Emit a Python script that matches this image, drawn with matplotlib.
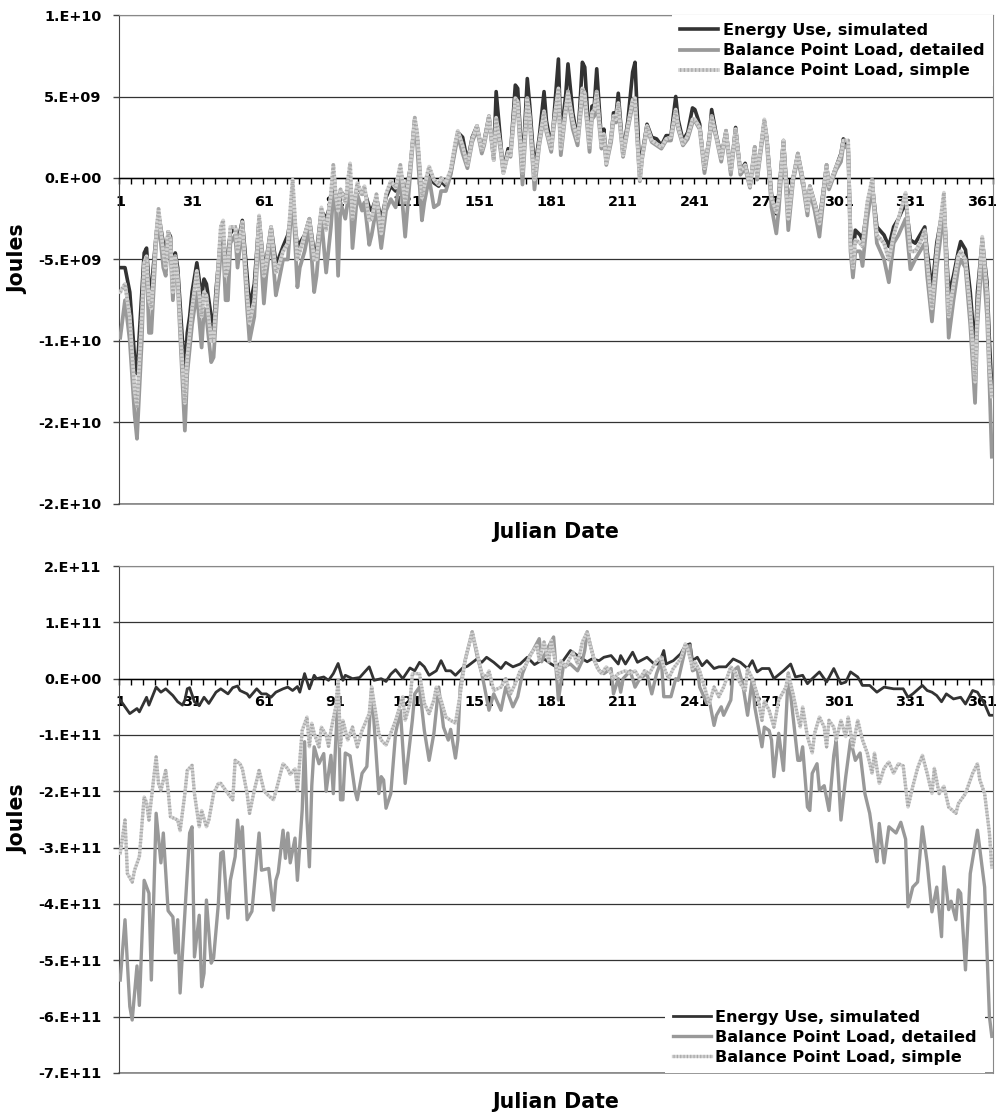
import numpy as np
import matplotlib.pyplot as plt
from matplotlib.ticker import FixedLocator, FuncFormatter, NullFormatter
from matplotlib.legend_handler import HandlerTuple

plt.rcParams['font.family'] = ['DejaVu Sans']
plt.rcParams['font.weight'] = 'bold'

# TOP CHART DATA (Joules, x 1e9)
top_days = [1, 3, 5, 7, 8, 10, 11, 12, 13, 14, 16, 17, 19, 20, 21, 22, 23, 24, 25, 27,
            28, 29, 30, 31, 33, 35, 36, 37, 39, 40, 41, 43, 44, 45, 46, 47, 49, 50, 52, 54,
            55, 57, 59, 61, 62, 64, 66, 67, 69, 71, 73, 75, 76, 78, 80, 82, 83, 85, 87, 89,
            90, 91, 92, 93, 95, 97, 98, 100, 102, 103, 105, 106, 108, 110, 112, 114, 116, 118, 120, 122,
            124, 125, 127, 128, 130, 132, 134, 135, 137, 139, 141, 142, 144, 146, 148, 150, 152, 153, 155, 157,
            158, 160, 161, 163, 164, 166, 167, 169, 171, 172, 174, 176, 178, 179, 181, 182, 184, 185, 187, 188,
            190, 192, 193, 194, 195, 197, 198, 199, 200, 202, 203, 204, 206, 207, 208, 209, 211, 213, 215, 216,
            218, 219, 221, 223, 225, 227, 229, 231, 233, 234, 236, 238, 240, 241, 243, 245, 247, 248, 250, 252,
            254, 256, 258, 260, 262, 264, 266, 267, 270, 271, 273, 275, 276, 278, 280, 282, 284, 286, 288, 289,
            291, 293, 296, 297, 300, 302, 303, 305, 306, 307, 308, 310, 311, 313, 315, 317, 320, 322, 324, 326,
            329, 331, 333, 335, 337, 338, 340, 342, 345, 347, 349, 351, 352, 354, 356, 358, 359, 361, 363, 364,
            365]
top_energy = [-5.5, -5.5, -7.0, -11.0, -12.0, -7.0, -4.6, -4.3, -6.5, -6.8, -3.5, -2.2, -4.0, -5.0, -3.3, -3.6, -6.5, -4.6, -5.5, -10.0,
              -11.8, -9.5, -8.5, -7.0, -5.2, -7.3, -6.2, -6.5, -8.5, -9.3, -6.9, -3.6, -3.8, -5.5, -4.5, -3.4, -3.0, -4.0, -2.6, -6.0,
              -7.9, -6.5, -2.5, -5.5, -5.0, -3.0, -5.2, -5.0, -4.2, -3.5, -1.6, -4.2, -4.0, -3.5, -2.5, -4.6, -4.5, -2.0, -2.5, -1.5,
              -0.5, -1.0, -1.5, -0.8, -1.2, -0.2, -2.0, -0.5, -1.0, -0.8, -1.8, -2.0, -1.2, -2.6, -1.2, -0.5, -0.8, 0.5, -1.2, 0.5,
              3.6, 2.5, -1.2, -0.5, 0.5, -0.3, -0.5, -0.2, -0.5, 0.3, 2.0, 2.8, 2.5, 1.0, 2.5, 3.2, 1.7, 2.3, 3.8, 1.2,
              5.3, 2.0, 0.5, 1.8, 1.5, 5.7, 5.5, 0.5, 6.1, 4.5, 0.5, 2.5, 5.3, 3.5, 1.9, 3.5, 7.3, 2.5, 5.0, 7.0,
              4.0, 2.3, 4.5, 7.1, 6.8, 2.0, 4.4, 4.5, 6.7, 2.2, 3.0, 1.0, 2.5, 4.0, 3.8, 5.2, 1.5, 3.5, 6.5, 7.1,
              0.2, 1.5, 3.3, 2.5, 2.4, 2.0, 2.6, 2.6, 5.0, 3.6, 2.3, 2.8, 4.3, 4.2, 3.3, 0.5, 2.5, 4.2, 2.6, 1.3,
              2.9, 0.4, 3.1, 0.4, 0.9, -0.5, 1.9, 0.1, 3.5, 2.5, -1.0, -2.2, -1.0, 2.3, -2.0, 0.0, 1.5, 0.0, -2.0, -0.5,
              -1.5, -2.6, 0.8, -0.5, 0.7, 1.5, 2.4, 2.0, -3.5, -5.0, -3.2, -3.5, -3.8, -1.8, -0.3, -3.0, -3.5, -4.2, -3.0, -2.5,
              -1.5, -3.8, -4.0, -3.5, -3.0, -4.5, -6.9, -4.0, -1.5, -7.1, -6.0, -4.5, -3.9, -4.4, -7.0, -10.7, -7.0, -3.8, -6.4, -10.0,
              -13.0]
top_detailed = [-9.8, -7.5, -10.0, -14.5, -16.0, -10.0, -5.5, -5.0, -9.5, -9.5, -4.0, -2.6, -5.5, -6.0, -3.8, -4.5, -7.5, -5.0, -6.5, -12.5,
                -15.5, -12.0, -10.5, -9.0, -7.0, -10.4, -8.0, -8.5, -11.3, -11.0, -8.5, -4.5, -4.2, -7.5, -7.5, -4.0, -3.5, -5.5, -3.0, -8.0,
                -10.0, -8.5, -3.0, -7.7, -6.0, -3.5, -7.2, -6.5, -5.0, -5.0, -1.0, -6.7, -5.5, -4.5, -3.0, -7.0, -6.0, -2.5, -5.8, -3.0,
                -1.0, -1.5, -6.0, -1.5, -2.5, -0.5, -4.3, -1.0, -2.0, -1.5, -4.1, -3.5, -1.8, -4.3, -2.0, -1.3, -1.8, 0.0, -3.6, 0.0,
                3.5, 2.0, -2.6, -1.5, 0.0, -1.8, -1.6, -0.8, -0.8, 0.2, 1.8, 2.6, 1.5, 0.6, 2.2, 3.0, 1.5, 2.0, 3.6, 1.1,
                3.5, 1.5, 0.3, 1.5, 1.3, 4.5, 4.3, -0.4, 4.5, 3.5, -0.7, 2.0, 3.8, 2.8, 1.6, 3.0, 5.0, 1.4, 4.0, 5.0,
                3.0, 2.0, 3.5, 5.0, 4.8, 1.6, 3.6, 3.8, 4.8, 1.8, 2.5, 0.8, 2.2, 3.5, 3.4, 4.2, 1.3, 3.0, 4.5, 4.5,
                -0.2, 1.2, 3.0, 2.2, 2.0, 1.8, 2.3, 2.3, 4.0, 3.0, 2.0, 2.4, 3.4, 3.5, 3.0, 0.3, 2.2, 3.5, 2.4, 1.0,
                2.7, 0.2, 2.8, 0.2, 0.6, -0.6, 1.7, -0.1, 3.3, 2.2, -1.8, -3.4, -2.0, 2.0, -3.2, -0.2, 1.2, -0.3, -2.3, -0.8,
                -2.0, -3.6, 0.6, -0.7, 0.5, 1.0, 2.0, 1.8, -4.5, -6.1, -4.5, -4.5, -5.4, -2.5, -0.5, -4.0, -5.0, -6.4, -4.0, -3.5,
                -2.5, -5.6, -5.0, -4.5, -4.0, -6.0, -8.8, -5.5, -2.0, -9.8, -7.5, -5.5, -5.0, -5.5, -9.0, -13.8, -9.0, -4.5, -8.5, -12.5,
                -17.1]
top_simple = [-7.0, -6.5, -8.5, -13.0, -14.0, -8.5, -5.2, -4.8, -7.5, -8.0, -3.5, -1.9, -4.5, -5.5, -3.3, -3.8, -7.0, -4.8, -6.0, -11.5,
              -13.8, -11.0, -9.5, -8.0, -5.7, -8.5, -7.0, -7.2, -10.0, -10.0, -7.5, -3.0, -2.6, -6.0, -5.5, -3.0, -3.0, -4.5, -2.7, -7.0,
              -8.9, -7.5, -2.3, -6.0, -5.2, -3.0, -5.8, -5.5, -4.5, -4.0, -0.1, -5.0, -4.5, -3.5, -2.5, -5.0, -5.0, -1.8, -3.2, -1.0,
              0.8, -1.0, -2.0, -0.7, -1.5, 0.9, -2.5, -0.3, -1.0, -0.5, -2.6, -2.5, -1.0, -3.4, -1.0, -0.2, -0.6, 0.8, -1.5, 0.5,
              3.7, 2.8, -1.2, -0.5, 0.7, -0.1, -0.4, 0.0, -0.3, 0.5, 2.2, 2.9, 2.0, 0.8, 2.4, 3.2, 1.7, 2.2, 3.8, 1.1,
              3.7, 1.8, 0.3, 1.6, 1.4, 4.9, 4.7, 0.3, 4.9, 3.8, -0.1, 2.2, 4.1, 3.0, 1.8, 3.3, 5.5, 1.8, 4.2, 5.3,
              3.5, 2.3, 3.8, 5.5, 5.2, 1.9, 4.0, 4.2, 5.3, 2.0, 2.7, 0.9, 2.5, 3.8, 3.6, 4.6, 1.4, 3.2, 4.8, 4.9,
              -0.1, 1.3, 3.2, 2.3, 2.1, 1.9, 2.4, 2.5, 4.2, 3.2, 2.1, 2.6, 3.6, 3.6, 3.1, 0.6, 2.4, 3.8, 2.5, 1.2,
              2.9, 0.4, 3.0, 0.4, 0.8, -0.5, 1.9, 0.1, 3.6, 2.5, -1.2, -2.1, -1.2, 2.3, -2.5, 0.0, 1.5, 0.0, -2.0, -0.5,
              -1.5, -2.8, 0.8, -0.5, 0.7, 1.4, 2.3, 2.3, -4.0, -5.5, -3.8, -4.0, -4.2, -1.5, -0.1, -3.5, -4.0, -5.0, -3.5, -2.5,
              -0.9, -4.5, -4.5, -4.0, -3.2, -5.0, -8.0, -4.5, -0.9, -8.5, -6.5, -4.8, -4.5, -5.0, -8.0, -12.5, -8.0, -3.6, -7.0, -11.5,
              -13.4]

# BOTTOM CHART DATA (Joules, x 1e10)
bot_energy_days = [1, 5, 8, 9, 12, 13, 16, 18, 20, 23, 25, 27, 28, 29, 30, 32, 34, 36, 38, 41,
                   43, 46, 48, 50, 51, 54, 55, 58, 60, 62, 64, 66, 69, 71, 73, 75, 76, 78, 80, 82,
                   83, 86, 88, 90, 92, 94, 95, 98, 101, 105, 107, 110, 112, 114, 116, 119, 122, 124, 126, 128,
                   130, 133, 135, 137, 139, 141, 144, 146, 150, 152, 154, 157, 160, 162, 165, 168, 171, 174, 178, 181,
                   183, 186, 189, 193, 196, 198, 201, 203, 206, 209, 210, 212, 215, 217, 221, 224, 226, 228, 229, 232,
                   235, 237, 239, 240, 242, 244, 246, 249, 251, 254, 257, 260, 263, 265, 267, 269, 272, 274, 278, 281,
                   283, 286, 288, 290, 293, 296, 299, 302, 304, 306, 309, 311, 314, 317, 320, 324, 328, 330, 332, 336,
                   338, 340, 342, 344, 346, 349, 352, 354, 357, 359, 362, 364, 365]
bot_energy = [-3.8, -6.2, -5.3, -5.9, -3.3, -4.7, -1.5, -2.4, -1.8, -3.0, -4.1, -4.7, -3.8, -1.8, -1.6, -4.1, -4.8, -3.3, -4.4, -2.4,
              -1.8, -2.7, -1.6, -1.3, -2.1, -2.7, -3.3, -1.8, -2.7, -2.7, -3.3, -2.4, -1.8, -1.5, -2.1, -1.4, -2.4, 0.9, -1.8, 0.6,
              0.0, 0.3, -0.3, 0.9, 2.7, -0.3, 0.6, 0.0, 0.2, 2.1, -0.3, 0.0, -0.5, 0.8, 1.6, 0.0, 1.9, 1.4, 2.9, 2.1,
              0.6, 1.4, 3.2, 1.4, 1.4, 0.6, 1.9, 2.2, 3.5, 2.9, 3.8, 2.9, 1.8, 2.9, 2.1, 2.6, 3.8, 2.5, 3.5, 2.6,
              2.1, 3.2, 5.0, 3.8, 3.0, 3.5, 3.2, 3.8, 4.1, 2.6, 4.1, 2.6, 4.7, 2.9, 3.8, 2.6, 2.6, 5.0, 2.6, 3.2,
              4.4, 5.9, 6.2, 3.2, 3.8, 2.3, 3.2, 1.8, 2.1, 2.1, 3.5, 2.9, 1.8, 3.2, 1.2, 1.8, 1.8, 0.0, 1.4, 2.6,
              0.3, 0.6, -0.9, 0.0, 1.2, -0.6, 1.8, -0.9, -0.6, 1.2, 0.3, -1.2, -1.2, -2.4, -1.5, -1.8, -1.8, -3.3, -2.7, -1.2,
              -2.1, -2.4, -3.0, -4.1, -2.7, -3.6, -3.3, -4.5, -2.1, -2.4, -4.5, -6.5, -6.5]

bot_detailed_days = [1, 3, 5, 6, 8, 9, 11, 13, 14, 16, 18, 19, 21, 23, 24, 25, 26, 28, 30, 31,
                     32, 34, 35, 36, 37, 39, 40, 42, 43, 44, 46, 47, 49, 50, 51, 52, 54, 56, 59, 60,
                     63, 65, 66, 67, 69, 70, 71, 72, 74, 75, 77, 78, 79, 80, 81, 82, 84, 86, 87, 89,
                     90, 92, 93, 94, 95, 97, 99, 100, 102, 104, 106, 109, 110, 111, 112, 114, 116, 118, 120, 123,
                     124, 126, 128, 130, 132, 134, 136, 138, 139, 141, 142, 143, 145, 148, 150, 152, 153, 155, 157, 160,
                     162, 164, 165, 167, 169, 172, 173, 176, 177, 179, 182, 184, 186, 189, 192, 194, 195, 196, 199, 201,
                     203, 206, 207, 209, 210, 211, 214, 216, 218, 221, 223, 225, 227, 228, 231, 233, 234, 237, 239, 240,
                     242, 243, 246, 247, 249, 250, 252, 253, 254, 256, 257, 259, 261, 263, 265, 266, 268, 269, 270, 272,
                     273, 274, 276, 278, 280, 282, 284, 285, 286, 288, 289, 290, 292, 293, 295, 297, 299, 300, 302, 304,
                     306, 308, 310, 312, 314, 316, 317, 318, 320, 322, 325, 327, 329, 330, 332, 334, 336, 338, 340, 342,
                     344, 345, 347, 348, 350, 351, 352, 354, 356, 359, 362, 364, 365]
bot_detailed = [-53.5, -42.8, -58.2, -60.6, -51.0, -58.0, -35.8, -38.1, -53.5, -23.9, -32.7, -27.4, -41.2, -42.3, -48.7, -42.8, -55.8, -41.6, -27.4, -26.3,
                -49.4, -42.0, -54.7, -52.3, -39.3, -50.5, -49.6, -39.9, -31.0, -30.7, -42.5, -35.8, -31.6, -25.1, -30.1, -26.3, -42.8, -41.3, -27.4, -34.0,
                -33.7, -41.1, -35.8, -34.4, -26.9, -31.9, -27.4, -32.7, -28.3, -35.8, -23.3, -11.2, -25.0, -33.4, -19.0, -12.1, -15.1, -13.3, -20.0, -13.6,
                -20.4, -2.0, -21.5, -21.5, -13.2, -13.7, -19.8, -21.5, -16.8, -15.6, -1.5, -20.4, -17.4, -18.0, -23.0, -20.4, -9.7, -5.6, -18.6, -7.4,
                -2.7, -1.5, -9.2, -14.5, -9.7, -1.5, -8.6, -10.9, -9.0, -14.1, -10.9, -1.5, 3.2, 8.3, 4.1, 0.9, -1.2, -5.6, -2.7, -5.6,
                -1.5, -3.8, -5.0, -3.2, 0.9, 4.1, 4.7, 7.1, 3.0, 5.0, 7.4, -3.8, 2.1, 2.6, 1.4, 3.2, 5.0, 8.3, 3.2, 1.4,
                0.9, 1.8, -2.7, 0.0, -2.4, 0.0, 1.4, -1.5, 0.0, 0.9, -2.7, 0.9, 3.2, -3.2, -3.2, 0.0, -0.3, 5.3, 5.9, 1.4,
                1.8, -1.5, -4.4, -3.8, -8.3, -6.5, -5.0, -6.5, -5.6, -3.8, 1.4, 2.1, -1.0, -6.5, 0.1, -5.0, -9.7, -12.1, -8.6, -9.2,
                -10.9, -17.4, -9.7, -16.3, 1.0, -6.8, -14.5, -14.5, -12.1, -22.8, -23.4, -16.8, -15.1, -19.8, -19.0, -23.4, -13.6, -10.9, -25.1, -17.4,
                -10.9, -14.5, -13.2, -20.4, -23.9, -30.0, -32.5, -25.7, -32.7, -26.3, -27.4, -25.5, -28.5, -40.5, -37.0, -36.1, -26.3, -32.7, -41.4, -37.0,
                -45.8, -33.4, -41.0, -39.5, -42.8, -37.5, -38.1, -51.7, -34.6, -26.9, -37.0, -60.0, -63.5]

bot_simple_days = [1, 3, 4, 6, 7, 9, 11, 12, 13, 16, 17, 18, 20, 21, 22, 25, 26, 28, 29, 31,
                   32, 34, 35, 37, 38, 40, 42, 43, 46, 48, 49, 51, 52, 54, 55, 57, 59, 61, 62, 65,
                   66, 69, 71, 72, 74, 75, 77, 79, 80, 81, 82, 84, 85, 87, 88, 89, 91, 92, 93, 94,
                   96, 98, 100, 102, 105, 106, 109, 110, 112, 114, 116, 119, 120, 122, 123, 126, 128, 130, 132, 133,
                   135, 137, 139, 141, 143, 145, 148, 150, 152, 154, 155, 157, 160, 162, 164, 166, 168, 170, 173, 175,
                   176, 178, 180, 181, 184, 185, 187, 190, 192, 194, 196, 198, 200, 202, 204, 206, 207, 209, 212, 214,
                   216, 218, 220, 222, 225, 227, 228, 230, 232, 235, 237, 238, 240, 241, 243, 245, 247, 249, 251, 253,
                   256, 258, 260, 262, 263, 265, 267, 269, 270, 272, 274, 276, 279, 280, 282, 284, 285, 286, 288, 290,
                   291, 293, 295, 296, 297, 299, 300, 302, 304, 305, 307, 309, 311, 313, 315, 316, 318, 320, 322, 324,
                   326, 328, 330, 332, 334, 336, 338, 340, 341, 343, 345, 347, 350, 351, 354, 357, 359, 360, 362, 363,
                   364, 365]
bot_simple = [-31.0, -25.1, -34.6, -36.1, -34.0, -31.6, -21.0, -22.0, -25.1, -13.9, -18.6, -19.8, -16.3, -19.8, -24.5, -25.1, -27.0, -20.4, -16.3, -15.4,
              -20.4, -26.3, -23.4, -26.3, -25.1, -20.4, -18.6, -18.6, -20.4, -21.5, -14.5, -15.1, -16.0, -20.4, -23.9, -19.8, -16.3, -19.8, -20.4, -21.5,
              -20.0, -15.1, -16.0, -17.0, -16.0, -19.8, -9.2, -6.8, -12.1, -7.9, -9.7, -12.1, -8.6, -10.0, -12.0, -9.2, -5.0, -0.3, -12.0, -7.4,
              -10.9, -8.6, -12.1, -9.2, -6.2, -1.5, -9.7, -10.9, -11.8, -9.7, -7.4, -3.2, -7.4, -4.4, 0.9, 0.9, -4.4, -6.2, -3.8, -1.5,
              -3.8, -6.8, -7.4, -7.9, -2.7, 3.2, 8.3, 4.7, 0.9, 0.3, 1.4, -2.1, -1.5, 0.0, -2.7, -0.9, 1.4, 2.1, 4.7, 5.9,
              3.2, 6.5, 3.0, 6.8, 0.0, 3.2, 2.1, 4.7, 2.6, 6.5, 8.3, 4.7, 2.1, 0.9, 2.1, 0.9, 0.0, 0.9, 1.4, 0.9,
              1.4, 0.0, 1.4, 0.9, 3.2, 3.8, 2.1, 0.0, 1.8, 3.5, 6.2, 5.3, 1.8, 3.0, 1.4, -1.5, -4.4, -1.5, -3.2, -1.5,
              2.1, 1.0, -0.9, -2.1, 1.8, 0.0, -2.7, -7.4, -4.0, -5.6, -8.6, -3.8, -1.5, 0.9, -2.7, -6.8, -8.6, -5.0, -10.3, -13.2,
              -9.7, -6.8, -8.6, -12.1, -7.4, -8.6, -10.9, -7.4, -10.3, -6.8, -12.1, -7.4, -10.9, -13.2, -16.8, -13.2, -18.6, -15.9, -14.8, -16.8,
              -15.1, -15.5, -22.8, -19.1, -15.9, -13.6, -16.8, -20.4, -15.9, -20.4, -19.1, -22.8, -23.9, -22.2, -20.4, -16.8, -15.1, -18.0, -20.4, -23.9,
              -27.4, -33.5]

series_labels = ['Energy Use, simulated', 'Balance Point Load, detailed', 'Balance Point Load, simple']
series_colors = ['#333333', '#999999', '#d2d2d2']
day_labels = list(range(1, 362, 30))


# EXCEL STYLE "0.E+00" NUMBER FORMAT
def excel_sci(v, pos=None):
    if v == 0:
        return '0.E+00'
    exp = int(np.floor(np.log10(abs(v)) + 1e-9))
    mant = np.floor(abs(v) / 10 ** exp + 0.5)
    if mant >= 10:
        mant /= 10
        exp += 1
    sign = '-' if v < 0 else ''
    return f"{sign}{int(mant)}.E{'+' if exp >= 0 else '-'}{abs(exp):02d}"


# AXIS STYLING SHARED BY BOTH PANELS
def style_axes(ax, ymin, ymax, ystep, label_y):
    ax.set_xlim(0.5, 365.5)
    ax.set_ylim(ymin, ymax)
    ax.set_yticks(np.arange(ymin, ymax + ystep / 2, ystep))
    ax.yaxis.set_major_formatter(FuncFormatter(excel_sci))
    ax.yaxis.grid(True, color='#333333', lw=0.9)
    ax.set_axisbelow(True)

    ax.spines['bottom'].set_position(('data', 0))
    ax.spines['bottom'].set_color('black')
    ax.spines['bottom'].set_linewidth(1.0)
    ax.spines['left'].set_color('#444444')
    for s in ['top', 'right']:
        ax.spines[s].set_color('#888888')
    ax.axhline(ymin, color='#888888', lw=1.2, clip_on=False, zorder=0.5)

    ax.xaxis.set_major_locator(FixedLocator(np.arange(0.5, 366, 5)))
    ax.xaxis.set_major_formatter(NullFormatter())
    ax.xaxis.set_minor_locator(FixedLocator(day_labels))
    ax.xaxis.set_minor_formatter(FuncFormatter(lambda v, p: f'{int(v)}'))
    ax.tick_params(axis='x', which='major', direction='out', length=4, width=1, color='black')
    ax.tick_params(axis='x', which='minor', length=0, pad=12, labelsize=10.4)
    ax.tick_params(axis='y', direction='out', length=4, width=1, color='#444444', pad=8.5, labelsize=10.4)

    ax.set_xlabel('Julian Date', fontsize=14.8, fontweight='bold')
    ax.xaxis.set_label_coords(0.5, label_y)
    ax.set_ylabel('Joules', fontsize=14.8, fontweight='bold')
    ax.yaxis.set_label_coords(-0.104, 0.5)


# DRAW THE THREE SERIES (THE SIMPLE ONE GETS A DOTTED TEXTURE ON TOP)
def plot_series(ax, data, scale, widths):
    handles = []
    for i, ((days, vals), color, lw) in enumerate(zip(data, series_colors, widths)):
        y = np.array(vals) * scale
        h, = ax.plot(days, y, color=color, lw=lw, solid_joinstyle='round', zorder=3)
        if i == 2:
            t, = ax.plot(days, y, color='#a9a9a9', lw=lw, dashes=(0.35, 0.65),
                         dash_capstyle='butt', dash_joinstyle='round', zorder=3.1)
            h = (h, t)
        handles.append(h)
    return handles


fig = plt.figure(figsize=(9.96, 11.12), dpi=100)
ax_top = fig.add_axes([0.1195, 0.5468, 0.8775, 0.4397])
ax_bot = fig.add_axes([0.1195, 0.0351, 0.8775, 0.4559])

legend_kw = dict(frameon=True, fancybox=False, edgecolor='none', facecolor='white', framealpha=1,
                 prop={'weight': 'bold', 'size': 11.6}, handlelength=2.36, handletextpad=0.3,
                 labelspacing=0.32, borderpad=0.5, borderaxespad=0,
                 handler_map={tuple: HandlerTuple(ndivide=1)})

h_top = plot_series(ax_top, [(top_days, top_energy), (top_days, top_detailed), (top_days, top_simple)],
                    1e9, [2.6, 2.7, 2.7])
style_axes(ax_top, -2e10, 1e10, 5e9, -0.037)
ax_top.legend(h_top, series_labels, loc='upper right', bbox_to_anchor=(1.0, 1.0), **legend_kw)

h_bot = plot_series(ax_bot, [(bot_energy_days, bot_energy), (bot_detailed_days, bot_detailed),
                             (bot_simple_days, bot_simple)], 1e10, [2.0, 2.4, 2.4])
style_axes(ax_bot, -7e11, 2e11, 1e11, -0.0375)
ax_bot.legend(h_bot, series_labels, loc='lower right', bbox_to_anchor=(0.991, 0.0), **legend_kw)

fig.savefig('out.png', dpi=100)
